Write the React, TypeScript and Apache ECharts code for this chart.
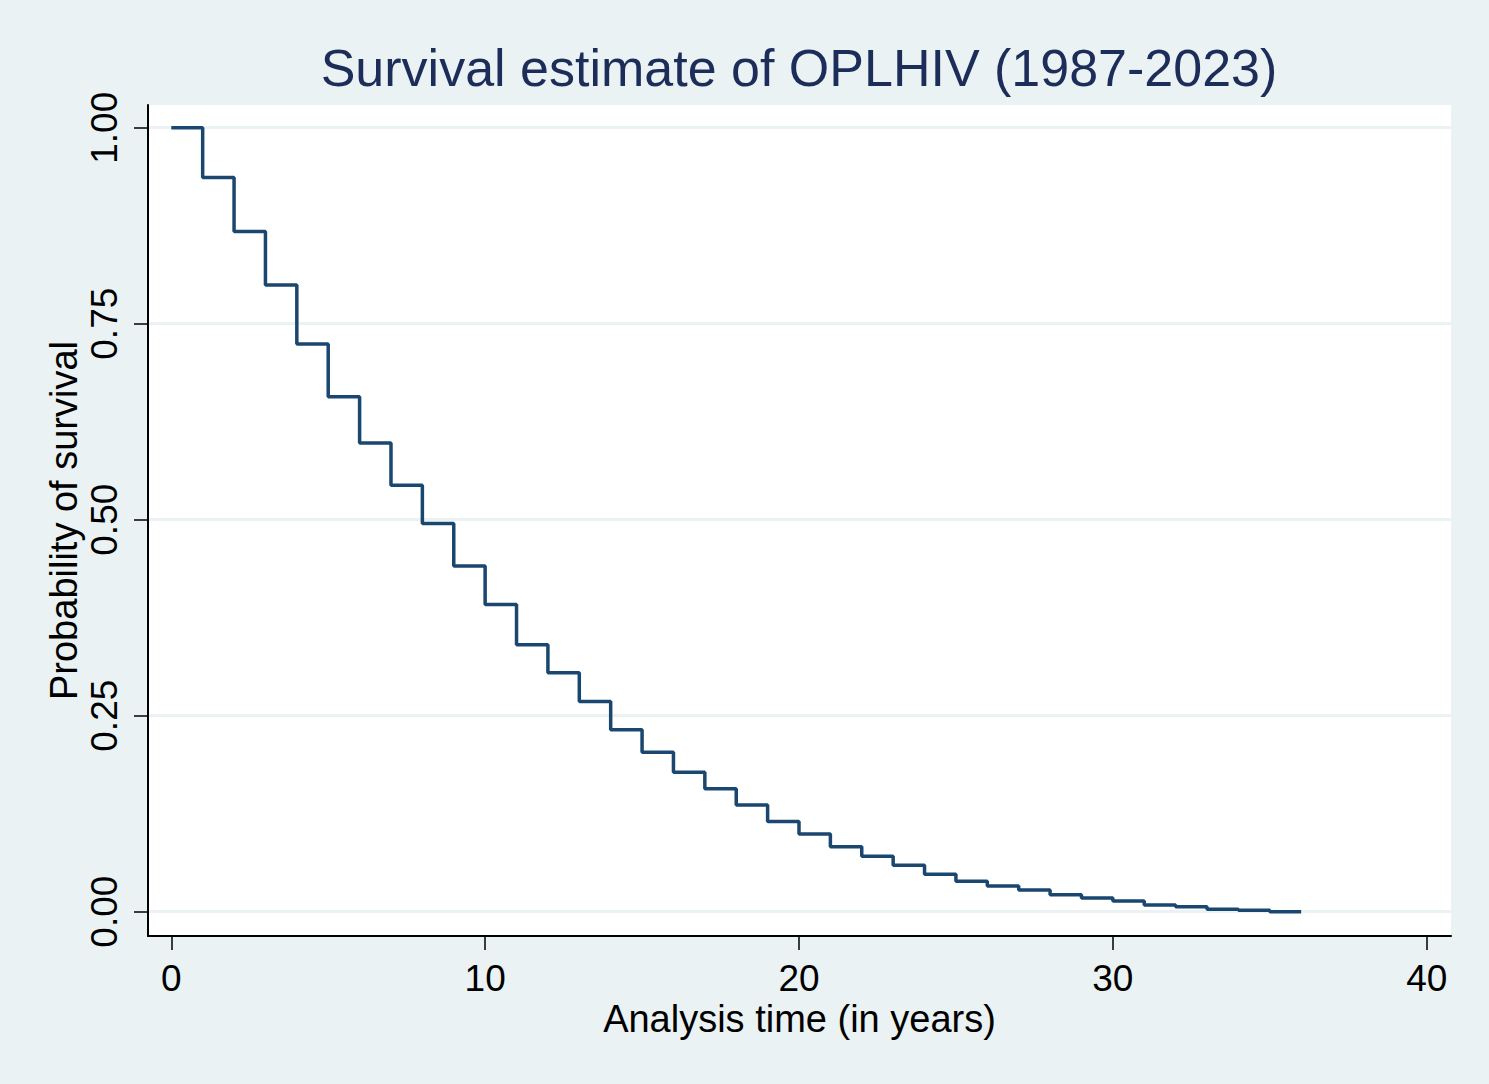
import React, { useEffect, useRef } from "react";
import * as echarts from "echarts";

// Analysis time (years) and Kaplan-Meier survival estimates
const times = [0, 1, 2, 3, 4, 5, 6, 7, 8, 9, 10, 11, 12, 13, 14, 15, 16, 17, 18, 19, 20, 21, 22, 23, 24, 25, 26, 27, 28, 29, 30, 31, 32, 33, 34, 35, 36];
const survival = [1.0, 0.9365, 0.8676, 0.7995, 0.7241, 0.6569, 0.598, 0.544, 0.4951, 0.441, 0.3917, 0.3406, 0.3048, 0.2682, 0.232, 0.2035, 0.178, 0.1567, 0.1362, 0.115, 0.0992, 0.083, 0.0707, 0.0592, 0.0477, 0.0388, 0.0328, 0.0277, 0.0217, 0.0175, 0.0136, 0.0085, 0.0064, 0.003, 0.002, 0.0, 0.0];

const xTicks = [0, 10, 20, 30, 40];
const yTicks = [0, 0.25, 0.5, 0.75, 1.0];

const titleText = "Survival estimate of OPLHIV (1987-2023)";
const xName = "Analysis time (in years)";
const yName = "Probability of survival";

const FONT = "'Liberation Sans', Arial, Helvetica, sans-serif";

export default function App() {
  const ref = useRef<HTMLDivElement>(null);

  useEffect(() => {
    if (!ref.current) return;
    const chart = echarts.init(ref.current, null, { renderer: "svg" });
    const data = times.map((t, i) => [t, survival[i]]);
    chart.setOption({
      animation: false,
      backgroundColor: "#EAF2F3",
      textStyle: { fontFamily: FONT },
      title: {
        text: titleText,
        left: 794,
        top: 37,
        textAlign: "center",
        textStyle: { fontSize: 52, fontWeight: "normal", color: "#1c2d5a", fontFamily: FONT },
      },
      grid: {
        left: 148,
        right: 38,
        top: 105,
        bottom: 148,
        show: true,
        backgroundColor: "#ffffff",
        borderWidth: 0,
        containLabel: false,
      },
      xAxis: {
        type: "value",
        min: -0.742,
        max: 40.774,
        name: xName,
        nameLocation: "middle",
        nameGap: 68,
        nameMoveOverlap: false,
        nameTextStyle: { fontSize: 38, lineHeight: 30, color: "#000000", fontFamily: FONT },
        axisLine: { show: true, onZero: false, lineStyle: { color: "#000000", width: 2 } },
        axisTick: { show: true, length: 14, customValues: xTicks, lineStyle: { color: "#000000", width: 1.5 } },
        axisLabel: {
          show: true,
          customValues: xTicks,
          margin: 28,
          lineHeight: 28,
          fontSize: 37,
          color: "#000000",
          fontFamily: FONT,
          formatter: (v: number) => String(v),
        },
        splitLine: { show: false },
      },
      yAxis: {
        type: "value",
        min: -0.031,
        max: 1.029,
        name: yName,
        nameLocation: "middle",
        nameGap: 65,
        nameRotate: 90,
        nameMoveOverlap: false,
        nameTextStyle: { fontSize: 38, color: "#000000", fontFamily: FONT },
        axisLine: { show: true, onZero: false, lineStyle: { color: "#000000", width: 2 } },
        axisTick: { show: true, length: 14, customValues: yTicks, lineStyle: { color: "#000000", width: 1.5 } },
        axisLabel: {
          show: true,
          customValues: yTicks,
          rotate: 90,
          margin: 25,
          fontSize: 37,
          color: "#000000",
          fontFamily: FONT,
          formatter: (v: number) => v.toFixed(2),
        },
        splitLine: { show: true, lineStyle: { color: "#EAF2F3", width: 3 } },
      },
      series: [
        {
          type: "line",
          step: "end",
          data,
          showSymbol: false,
          symbol: "none",
          lineStyle: { color: "#1a476f", width: 3.5 },
          z: 5,
        },
      ],
    });
    return () => chart.dispose();
  }, []);

  return (
    <div
      ref={ref}
      style={{ position: "fixed", left: 0, top: 0, width: 1489, height: 1084 }}
    />
  );
}
